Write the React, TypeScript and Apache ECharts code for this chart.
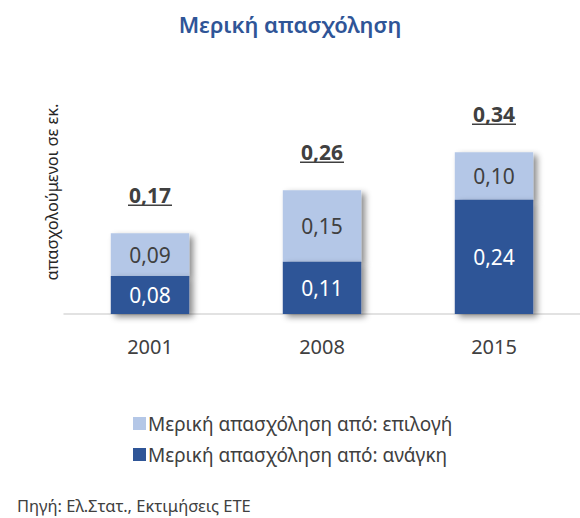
import React, { useEffect, useRef } from "react";
import * as echarts from "echarts";

const categories = ["2001", "2008", "2015"];
const necessity = [0.08, 0.11, 0.24];
const choice = [0.09, 0.15, 0.1];
const totals = [0.17, 0.26, 0.34];
const seriesNames = ["Μερική απασχόληση από: επιλογή", "Μερική απασχόληση από: ανάγκη"];

const FONT = "'Noto Sans', sans-serif";
const DARK = "#2F5597";
const LIGHT = "#B4C7E7";
const TXT = "#404040";

const fmt = (v: number) => v.toFixed(2).replace(".", ",");

export default function App() {
  const ref = useRef<HTMLDivElement>(null);
  useEffect(() => {
    if (!ref.current) return;
    const chart = echarts.init(ref.current, null, { renderer: "svg" });
    const shadow = {
      shadowBlur: 6,
      shadowOffsetX: 4,
      shadowOffsetY: 3,
      shadowColor: "rgba(0,0,0,0.45)",
    };
    chart.setOption({
      animation: false,
      textStyle: { fontFamily: FONT },
      title: {
        text: "Μερική απασχόληση",
        left: "center",
        top: 8,
        textStyle: { fontFamily: FONT, fontSize: 22, fontWeight: 600, color: DARK },
      },
      grid: { left: 64, right: -16, top: 100, bottom: 204 },
      xAxis: {
        type: "category",
        data: categories,
        axisLine: { lineStyle: { color: "#D9D9D9", width: 1.5 } },
        axisTick: { show: false },
        axisLabel: { fontFamily: FONT, fontSize: 20, color: TXT, margin: 22 },
      },
      yAxis: {
        type: "value",
        min: 0,
        max: 0.45,
        show: false,
        splitLine: { show: false },
      },
      legend: {
        orient: "vertical",
        left: 128,
        top: 409,
        itemWidth: 13,
        itemHeight: 13,
        itemGap: 12,
        icon: "rect",
        data: [seriesNames[0], seriesNames[1]],
        itemStyle: { shadowBlur: 0, shadowOffsetX: 0, shadowOffsetY: 0 },
        textStyle: { fontFamily: FONT, fontSize: 19, color: TXT, padding: [0, 0, 0, -3] },
      },
      graphic: [
        {
          type: "text",
          x: 51,
          y: 192,
          rotation: Math.PI / 2,
          style: {
            text: "απασχολούμενοι σε εκ.",
            fontFamily: FONT,
            fontSize: 16.5,
            fill: "#262626",
            align: "center",
            verticalAlign: "middle",
          },
        },
        {
          type: "text",
          x: 17,
          y: 505,
          style: {
            text: "Πηγή: Ελ.Στατ., Εκτιμήσεις ΕΤΕ",
            fontFamily: FONT,
            fontSize: 16.5,
            fill: TXT,
            align: "left",
            verticalAlign: "middle",
          },
        },
      ],
      series: [
        {
          name: seriesNames[1],
          type: "bar",
          stack: "a",
          z: 3,
          barWidth: "45.6%",
          data: necessity,
          itemStyle: { color: DARK, ...shadow },
          label: {
            show: true,
            position: "inside",
            formatter: (p: any) => fmt(p.value),
            fontFamily: FONT,
            fontSize: 21,
            color: "#FFFFFF",
          },
        },
        {
          name: seriesNames[0],
          type: "bar",
          stack: "a",
          z: 2,
          barWidth: "45.6%",
          data: choice,
          itemStyle: { color: LIGHT, ...shadow },
          label: {
            show: true,
            position: "inside",
            formatter: (p: any) => fmt(p.value),
            fontFamily: FONT,
            fontSize: 21,
            color: TXT,
          },
        },
        {
          type: "custom",
          silent: true,
          z: 4,
          data: totals.map((t, i) => [i, t]),
          encode: { x: 0, y: 1 },
          renderItem: (params: any, api: any) => {
            const pt = api.coord([api.value(0), api.value(1)]);
            const x = pt[0];
            const y = pt[1] - 38;
            return {
              type: "group",
              children: [
                {
                  type: "text",
                  x,
                  y,
                  style: {
                    text: fmt(api.value(1)),
                    fontFamily: FONT,
                    fontSize: 21,
                    fontWeight: "bold",
                    fill: TXT,
                    align: "center",
                    verticalAlign: "middle",
                  },
                },
                {
                  type: "line",
                  shape: { x1: x - 22, y1: y + 10, x2: x + 22, y2: y + 10 },
                  style: { stroke: TXT, lineWidth: 1.5 },
                },
              ],
            };
          },
        },
      ],
    });
    return () => chart.dispose();
  }, []);
  return (
    <div
      ref={ref}
      style={{ position: "absolute", left: 0, top: 0, width: 580, height: 518 }}
    />
  );
}
